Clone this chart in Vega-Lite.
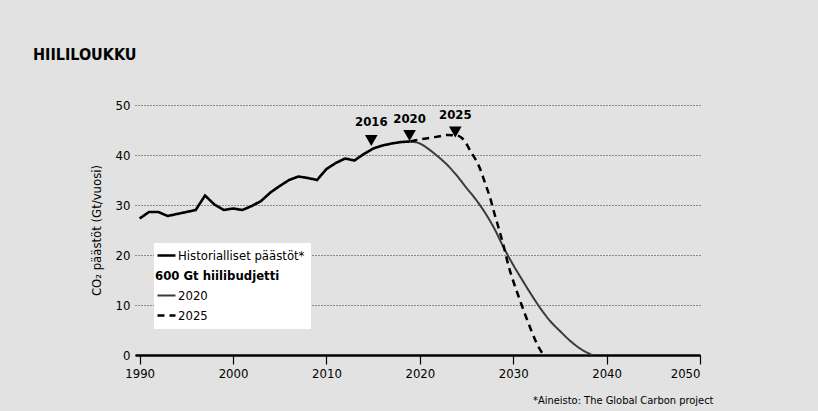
{
  "$schema": "https://vega.github.io/schema/vega-lite/v6.json",
  "width": 565,
  "height": 250,
  "autosize": {"type": "none"},
  "padding": {"left": 135, "top": 105, "right": 118, "bottom": 56},
  "background": "#e1e2e1",
  "config": {
    "view": {"stroke": null},
    "font": "DejaVu Sans Condensed, sans-serif"
  },
  "title": {
    "text": "HIILILOUKKU",
    "anchor": "start",
    "frame": "group",
    "dx": -102,
    "offset": 36,
    "fontSize": 16,
    "fontWeight": "bold",
    "color": "#000000"
  },
  "datasets": {
    "hist": [
      {"series": "Historialliset päästöt*", "year": 1990, "value": 27.3},
      {"series": "Historialliset päästöt*", "year": 1991, "value": 28.6},
      {"series": "Historialliset päästöt*", "year": 1992, "value": 28.6},
      {"series": "Historialliset päästöt*", "year": 1993, "value": 27.8},
      {"series": "Historialliset päästöt*", "year": 1994, "value": 28.2},
      {"series": "Historialliset päästöt*", "year": 1995, "value": 28.6},
      {"series": "Historialliset päästöt*", "year": 1996, "value": 29.0},
      {"series": "Historialliset päästöt*", "year": 1997, "value": 31.9},
      {"series": "Historialliset päästöt*", "year": 1998, "value": 30.1},
      {"series": "Historialliset päästöt*", "year": 1999, "value": 29.0},
      {"series": "Historialliset päästöt*", "year": 2000, "value": 29.3},
      {"series": "Historialliset päästöt*", "year": 2001, "value": 29.0},
      {"series": "Historialliset päästöt*", "year": 2002, "value": 29.8},
      {"series": "Historialliset päästöt*", "year": 2003, "value": 30.8},
      {"series": "Historialliset päästöt*", "year": 2004, "value": 32.5},
      {"series": "Historialliset päästöt*", "year": 2005, "value": 33.8},
      {"series": "Historialliset päästöt*", "year": 2006, "value": 35.0},
      {"series": "Historialliset päästöt*", "year": 2007, "value": 35.7},
      {"series": "Historialliset päästöt*", "year": 2008, "value": 35.4},
      {"series": "Historialliset päästöt*", "year": 2009, "value": 35.0},
      {"series": "Historialliset päästöt*", "year": 2010, "value": 37.2},
      {"series": "Historialliset päästöt*", "year": 2011, "value": 38.4},
      {"series": "Historialliset päästöt*", "year": 2012, "value": 39.3},
      {"series": "Historialliset päästöt*", "year": 2013, "value": 38.9},
      {"series": "Historialliset päästöt*", "year": 2014, "value": 40.2},
      {"series": "Historialliset päästöt*", "year": 2015, "value": 41.3},
      {"series": "Historialliset päästöt*", "year": 2016, "value": 41.9},
      {"series": "Historialliset päästöt*", "year": 2017, "value": 42.3},
      {"series": "Historialliset päästöt*", "year": 2018, "value": 42.6},
      {"series": "Historialliset päästöt*", "year": 2019, "value": 42.7}
    ],
    "b2020": [
      {"series": "2020", "year": 2019, "value": 42.7},
      {"series": "2020", "year": 2020, "value": 42.3},
      {"series": "2020", "year": 2021, "value": 41.1},
      {"series": "2020", "year": 2022, "value": 39.6},
      {"series": "2020", "year": 2023, "value": 37.9},
      {"series": "2020", "year": 2024, "value": 35.8},
      {"series": "2020", "year": 2025, "value": 33.4},
      {"series": "2020", "year": 2026, "value": 31.1},
      {"series": "2020", "year": 2027, "value": 28.4},
      {"series": "2020", "year": 2028, "value": 25.2},
      {"series": "2020", "year": 2029, "value": 21.4},
      {"series": "2020", "year": 2030, "value": 18.0},
      {"series": "2020", "year": 2031, "value": 14.9},
      {"series": "2020", "year": 2032, "value": 11.9},
      {"series": "2020", "year": 2033, "value": 9.1},
      {"series": "2020", "year": 2034, "value": 6.7},
      {"series": "2020", "year": 2035, "value": 4.8},
      {"series": "2020", "year": 2036, "value": 3.0},
      {"series": "2020", "year": 2037, "value": 1.5},
      {"series": "2020", "year": 2038, "value": 0.4},
      {"series": "2020", "year": 2038.5, "value": 0}
    ],
    "b2025": [
      {"series": "2025", "year": 2019, "value": 42.7},
      {"series": "2025", "year": 2020, "value": 43.1},
      {"series": "2025", "year": 2021, "value": 43.4},
      {"series": "2025", "year": 2022, "value": 43.7},
      {"series": "2025", "year": 2023, "value": 44.0},
      {"series": "2025", "year": 2024, "value": 43.9},
      {"series": "2025", "year": 2024.5, "value": 43.4},
      {"series": "2025", "year": 2025, "value": 42.2},
      {"series": "2025", "year": 2025.5, "value": 40.5},
      {"series": "2025", "year": 2026, "value": 39.0},
      {"series": "2025", "year": 2026.5, "value": 37.0},
      {"series": "2025", "year": 2027, "value": 34.3},
      {"series": "2025", "year": 2027.5, "value": 31.6},
      {"series": "2025", "year": 2028, "value": 28.2},
      {"series": "2025", "year": 2028.5, "value": 25.0},
      {"series": "2025", "year": 2029, "value": 21.6},
      {"series": "2025", "year": 2029.5, "value": 17.8},
      {"series": "2025", "year": 2030, "value": 14.8},
      {"series": "2025", "year": 2030.5, "value": 12.1},
      {"series": "2025", "year": 2031, "value": 9.5},
      {"series": "2025", "year": 2031.5, "value": 7.0},
      {"series": "2025", "year": 2032, "value": 4.6},
      {"series": "2025", "year": 2032.5, "value": 2.4},
      {"series": "2025", "year": 2033, "value": 0.7},
      {"series": "2025", "year": 2033.3, "value": 0}
    ],
    "ann": [
      {"year": 2014.8, "tri": 42.9, "lab": 46.6, "label": "2016"},
      {"year": 2018.9, "tri": 43.9, "lab": 47.2, "label": "2020"},
      {"year": 2023.8, "tri": 44.6, "lab": 48.0, "label": "2025"}
    ]
  },
  "encoding": {
    "x": {
      "field": "year",
      "type": "quantitative",
      "scale": {"domain": [1989.5, 2050], "nice": false, "zero": false},
      "axis": {
        "title": "*Aineisto: The Global Carbon project",
        "titleAnchor": "end",
        "titleAlign": "right",
        "titleX": 578,
        "titleY": 45,
        "titleBaseline": "middle",
        "titleFontSize": 11,
        "titleFontWeight": "normal",
        "titleColor": "#000000",
        "values": [1990, 2000, 2010, 2020, 2030, 2040, 2050],
        "format": "d",
        "grid": false,
        "domainColor": "#000000",
        "domainWidth": 2.5,
        "tickColor": "#000000",
        "tickSize": 9,
        "tickWidth": 1.2,
        "labelFontSize": 13,
        "labelColor": "#000000",
        "labelPadding": 3
      }
    },
    "y": {
      "field": "value",
      "type": "quantitative",
      "scale": {"domain": [0, 50], "nice": false},
      "axis": {
        "title": "CO₂ päästöt (Gt/vuosi)",
        "values": [0, 10, 20, 30, 40, 50],
        "domain": false,
        "ticks": false,
        "grid": true,
        "gridColor": "#333333",
        "gridDash": [1, 2],
        "gridWidth": 1,
        "labelFontSize": 13,
        "labelColor": "#000000",
        "labelPadding": 5,
        "titleFontSize": 13,
        "titleFontWeight": "normal",
        "titleColor": "#000000",
        "titlePadding": 12
      }
    }
  },
  "layer": [
    {
      "data": {"name": "hist"},
      "mark": {"type": "line", "strokeWidth": 2.6, "interpolate": "linear"},
      "encoding": {
        "color": {
          "field": "series",
          "type": "nominal",
          "scale": {
            "domain": ["Historialliset päästöt*", "600 Gt hiilibudjetti", "2020", "2025"],
            "range": ["#000000", "rgba(0,0,0,0)", "#3a3a3a", "#000000"]
          },
          "legend": {
            "title": null,
            "orient": "none",
            "legendX": 19,
            "legendY": 138,
            "fillColor": "#ffffff",
            "padding": 6,
            "symbolType": "stroke",
            "symbolSize": 324,
            "symbolStrokeWidth": 2.5,
            "labelFontSize": 13,
            "labelColor": "#000000",
            "labelOffset": 5,
            "rowPadding": 6,
            "encode": {
              "labels": {
                "update": {
                  "fontWeight": {"signal": "datum.value === '600 Gt hiilibudjetti' ? 'bold' : 'normal'"},
                  "dx": {"signal": "datum.value === '600 Gt hiilibudjetti' ? -23 : 0"}
                }
              },
              "symbols": {
                "update": {
                  "strokeWidth": {"signal": "datum.value === '2020' ? 1.8 : 2.5"}
                }
              }
            }
          }
        },
        "strokeDash": {
          "field": "series",
          "type": "nominal",
          "scale": {
            "domain": ["Historialliset päästöt*", "600 Gt hiilibudjetti", "2020", "2025"],
            "range": [[1, 0], [1, 0], [1, 0], [7, 5]]
          }
        }
      }
    },
    {
      "data": {"name": "b2020"},
      "mark": {"type": "line", "strokeWidth": 2, "interpolate": "monotone"},
      "encoding": {
        "color": {"field": "series", "type": "nominal"},
        "strokeDash": {"field": "series", "type": "nominal"}
      }
    },
    {
      "data": {"name": "b2025"},
      "mark": {"type": "line", "strokeWidth": 2.5, "interpolate": "monotone"},
      "encoding": {
        "color": {"field": "series", "type": "nominal"},
        "strokeDash": {"field": "series", "type": "nominal"}
      }
    },
    {
      "data": {"name": "ann"},
      "mark": {"type": "point", "shape": "triangle-down", "filled": true, "color": "#000000", "opacity": 1, "size": 160},
      "encoding": {
        "y": {"field": "tri", "type": "quantitative"}
      }
    },
    {
      "data": {"name": "ann"},
      "mark": {"type": "text", "fontSize": 13, "fontWeight": "bold", "color": "#000000"},
      "encoding": {
        "y": {"field": "lab", "type": "quantitative"},
        "text": {"field": "label"}
      }
    }
  ]
}
